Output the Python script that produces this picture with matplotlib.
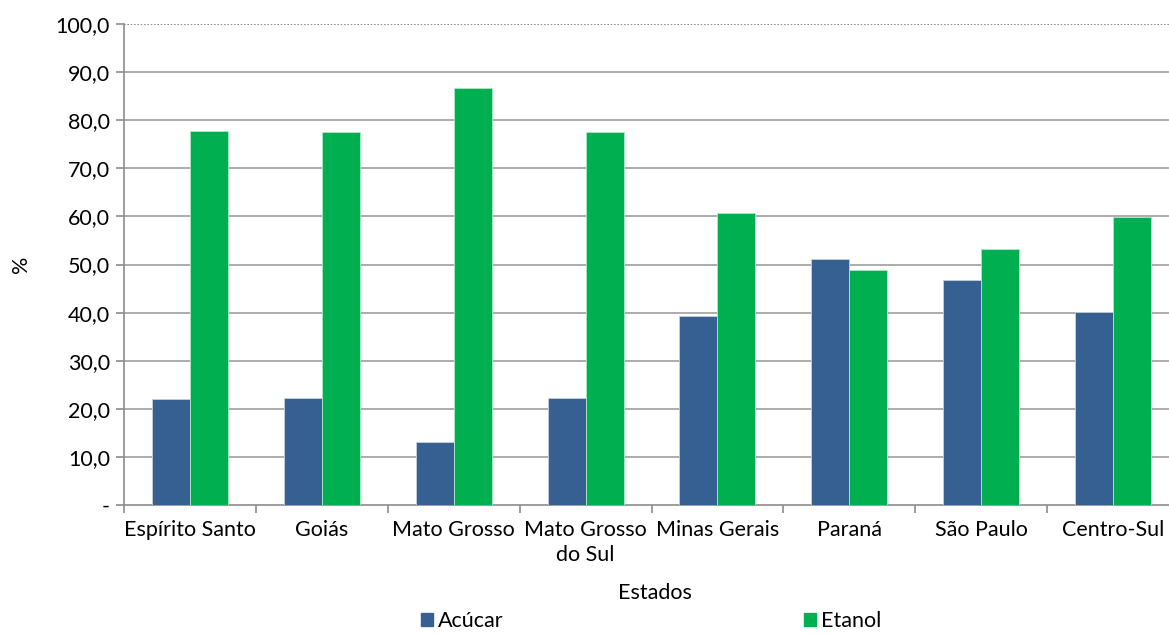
import matplotlib
matplotlib.use("Agg")
import matplotlib.pyplot as plt
import numpy as np
from matplotlib.patches import Patch

estados = ["Espírito Santo", "Goiás", "Mato Grosso", "Mato Grosso\ndo Sul",
           "Minas Gerais", "Paraná", "São Paulo", "Centro-Sul"]
acucar = [22.1, 22.3, 13.2, 22.3, 39.2, 51.1, 46.8, 40.1]
etanol = [77.8, 77.6, 86.6, 77.6, 60.8, 48.9, 53.2, 59.9]
yticks = [0, 10, 20, 30, 40, 50, 60, 70, 80, 90, 100]
ytick_labels = ["-", "10,0", "20,0", "30,0", "40,0", "50,0", "60,0", "70,0", "80,0", "90,0", "100,0"]

c_blue = "#366092"
c_green = "#00B050"
FS = 15.5

plt.rcParams['font.family'] = ['Lato', 'DejaVu Sans']
fig = plt.figure(figsize=(11.69, 6.35), dpi=100)
ax = fig.add_axes([124/1169, 1-505/635, (1179-124)/1169, (505-24)/635])

x = np.arange(len(estados))
w = 0.288
ax.bar(x - w/2, acucar, w, color=c_blue, edgecolor="#c8d0dc", linewidth=0.6, zorder=3)
ax.bar(x + w/2, etanol, w, color=c_green, edgecolor="#b0e8c8", linewidth=0.6, zorder=3)

ax.set_xlim(-0.5, len(estados) - 0.5)
ax.set_ylim(0, 100)
ax.set_yticks(yticks)
ax.set_yticklabels(ytick_labels, fontsize=FS)
for y in yticks[1:-1]:
    ax.axhline(y, color="#a6a6a6", linewidth=1.3, zorder=1)
ax.axhline(100, color="#808080", linewidth=1.2, linestyle=(0, (1, 1)), zorder=1)

ax.set_xticks(x)
ax.set_xticklabels(estados, fontsize=FS, linespacing=1.3)
ax.set_xticks(np.arange(len(estados) + 1) - 0.5, minor=True)
ax.tick_params(axis="x", which="major", length=0, pad=11)
ax.tick_params(axis="x", which="minor", length=6, color="#8c8c8c", width=1.2)
ax.tick_params(axis="y", length=6, color="#8c8c8c", width=1.2, pad=4)

for s in ["top", "right"]:
    ax.spines[s].set_visible(False)
ax.spines["left"].set_color("#8c8c8c")
ax.spines["left"].set_linewidth(1.2)
ax.spines["left"].set_linestyle((0, (2, 1)))
ax.spines["bottom"].set_color("#8c8c8c")
ax.spines["bottom"].set_linewidth(1.2)

ax.set_ylabel("%", fontsize=FS)
ax.yaxis.set_label_coords(-0.088, 0.5)
fig.text(655/1169, 1-593/635, "Estados", fontsize=FS, ha="center", va="center")

leg_kw = dict(frameon=False, fontsize=FS, handlelength=0.55, handleheight=0.55,
              handletextpad=0.25, borderpad=0.0, borderaxespad=0.0, loc="center left")
fig.legend(handles=[Patch(color=c_blue, label="Acúcar")],
           bbox_to_anchor=(421/1169, 1-621/635), **leg_kw)
fig.legend(handles=[Patch(color=c_green, label="Etanol")],
           bbox_to_anchor=(804/1169, 1-621/635), **leg_kw)

fig.savefig("out.png", dpi=100)
